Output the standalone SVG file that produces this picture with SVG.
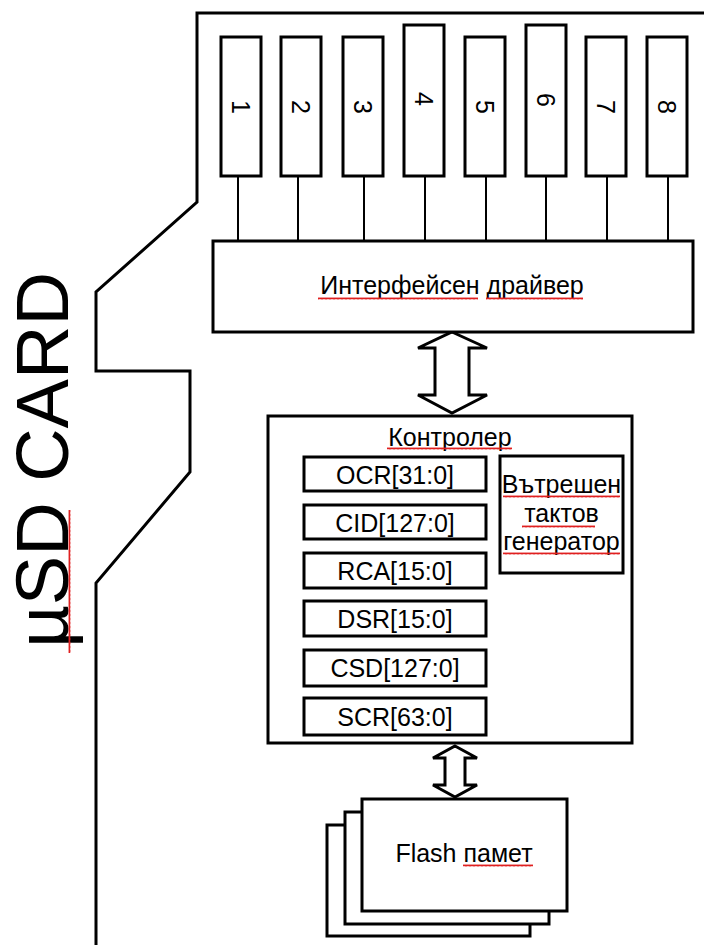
<svg xmlns="http://www.w3.org/2000/svg" width="704" height="945" viewBox="0 0 704 945">
<style>
.box{fill:#fff;stroke:#000;stroke-width:3}
.ln{fill:none;stroke:#000;stroke-width:2}
.outline{fill:none;stroke:#000;stroke-width:3}
.t{font-family:"Liberation Sans",Arial,sans-serif;font-size:25px;fill:#000;text-anchor:middle}
.big{font-family:"Liberation Sans",Arial,sans-serif;font-size:74px;fill:#000;text-anchor:middle}
.sq{fill:url(#sq)}
</style>
<defs>
<pattern id="sq" width="4" height="3" patternUnits="userSpaceOnUse">
<path d="M0,2.5 L1,0.5 L2,2.5 L3,0.5 L4,2.5" fill="none" stroke="#e02020" stroke-width="1"/>
</pattern>
</defs>

<g id="card-outline">
<path class="outline" d="M704,13 H197 V202 L96,292 V371 H190 V472 L96,583 V945"/>
</g>

<g id="card-title">
<text class="big" transform="translate(68,460) rotate(-90)" x="0" y="0">µSD CARD</text>
<rect class="sq" transform="translate(68,653) rotate(-90)" x="0" y="0" width="143" height="3"/>
</g>

<g id="connectors">
<line class="ln" x1="238" y1="176" x2="238" y2="241"/>
<line class="ln" x1="298" y1="176" x2="298" y2="241"/>
<line class="ln" x1="364" y1="176" x2="364" y2="241"/>
<line class="ln" x1="425" y1="176" x2="425" y2="241"/>
<line class="ln" x1="486" y1="176" x2="486" y2="241"/>
<line class="ln" x1="546" y1="176" x2="546" y2="241"/>
<line class="ln" x1="607" y1="176" x2="607" y2="241"/>
<line class="ln" x1="668" y1="176" x2="668" y2="241"/>
<path id="arrow-driver-controller" class="box" d="M452,332 L487,348 L469,348 L469,395 L487,395 L452,413 L418,395 L435,395 L435,348 L418,348 Z"/>
<path id="arrow-controller-flash" class="box" d="M455,746 L477,758 L465,758 L465,785 L477,785 L455,797 L433,785 L445,785 L445,758 L433,758 Z"/>
</g>

<g id="pin1"><rect class="box" x="221" y="37" width="40" height="139"/><text class="t" transform="translate(241,107) rotate(90)" y="9">1</text></g>
<g id="pin2"><rect class="box" x="281" y="37" width="40" height="139"/><text class="t" transform="translate(301,107) rotate(90)" y="9">2</text></g>
<g id="pin3"><rect class="box" x="343" y="37" width="40" height="139"/><text class="t" transform="translate(363,107) rotate(90)" y="9">3</text></g>
<g id="pin4"><rect class="box" x="404" y="25" width="40" height="151"/><text class="t" transform="translate(424,99) rotate(90)" y="9">4</text></g>
<g id="pin5"><rect class="box" x="465" y="37" width="40" height="139"/><text class="t" transform="translate(485,107) rotate(90)" y="9">5</text></g>
<g id="pin6"><rect class="box" x="526" y="25" width="40" height="151"/><text class="t" transform="translate(546,100) rotate(90)" y="9">6</text></g>
<g id="pin7"><rect class="box" x="586" y="37" width="40" height="139"/><text class="t" transform="translate(606,107) rotate(90)" y="9">7</text></g>
<g id="pin8"><rect class="box" x="647" y="37" width="40" height="139"/><text class="t" transform="translate(667,107) rotate(90)" y="9">8</text></g>

<g id="interface-driver">
<rect class="box" x="213" y="241" width="480" height="91"/>
<text class="t" x="452" y="294">Интерфейсен драйвер</text>
<rect class="sq" x="318" y="297" width="160" height="3"/>
<rect class="sq" x="486" y="297" width="97" height="3"/>
</g>

<g id="controller">
<rect class="box" x="268" y="416" width="364" height="327"/>
<text class="t" x="450" y="446">Контролер</text>
<rect class="sq" x="387" y="447" width="125" height="3"/>
</g>

<g id="reg-ocr"><rect class="box" x="304" y="457" width="182" height="34"/><text class="t" x="395" y="484">OCR[31:0]</text></g>
<g id="reg-cid"><rect class="box" x="304" y="505" width="182" height="34"/><text class="t" x="395" y="532">CID[127:0]</text></g>
<g id="reg-rca"><rect class="box" x="304" y="553" width="182" height="35"/><text class="t" x="395" y="580">RCA[15:0]</text></g>
<g id="reg-dsr"><rect class="box" x="304" y="601" width="182" height="35"/><text class="t" x="395" y="628">DSR[15:0]</text></g>
<g id="reg-csd"><rect class="box" x="304" y="650" width="182" height="36"/><text class="t" x="395" y="677">CSD[127:0]</text></g>
<g id="reg-scr"><rect class="box" x="304" y="698" width="182" height="37"/><text class="t" x="395" y="726">SCR[63:0]</text></g>

<g id="clock-generator">
<rect class="box" x="500" y="456" width="123" height="117"/>
<text class="t" x="561.5" y="493">Вътрешен</text>
<text class="t" x="561.5" y="522">тактов</text>
<text class="t" x="561.5" y="550">генератор</text>
<rect class="sq" x="503" y="495" width="117" height="3"/>
<rect class="sq" x="522" y="525" width="73" height="3"/>
<rect class="sq" x="503" y="552" width="117" height="3"/>
</g>

<g id="flash-memory">
<rect class="box" x="327" y="825" width="203" height="111"/>
<rect class="box" x="345" y="812" width="204" height="112"/>
<rect class="box" x="362" y="799" width="205" height="112"/>
<text class="t" x="464" y="862">Flash памет</text>
<rect class="sq" x="463" y="864" width="70" height="3"/>
</g>
</svg>
